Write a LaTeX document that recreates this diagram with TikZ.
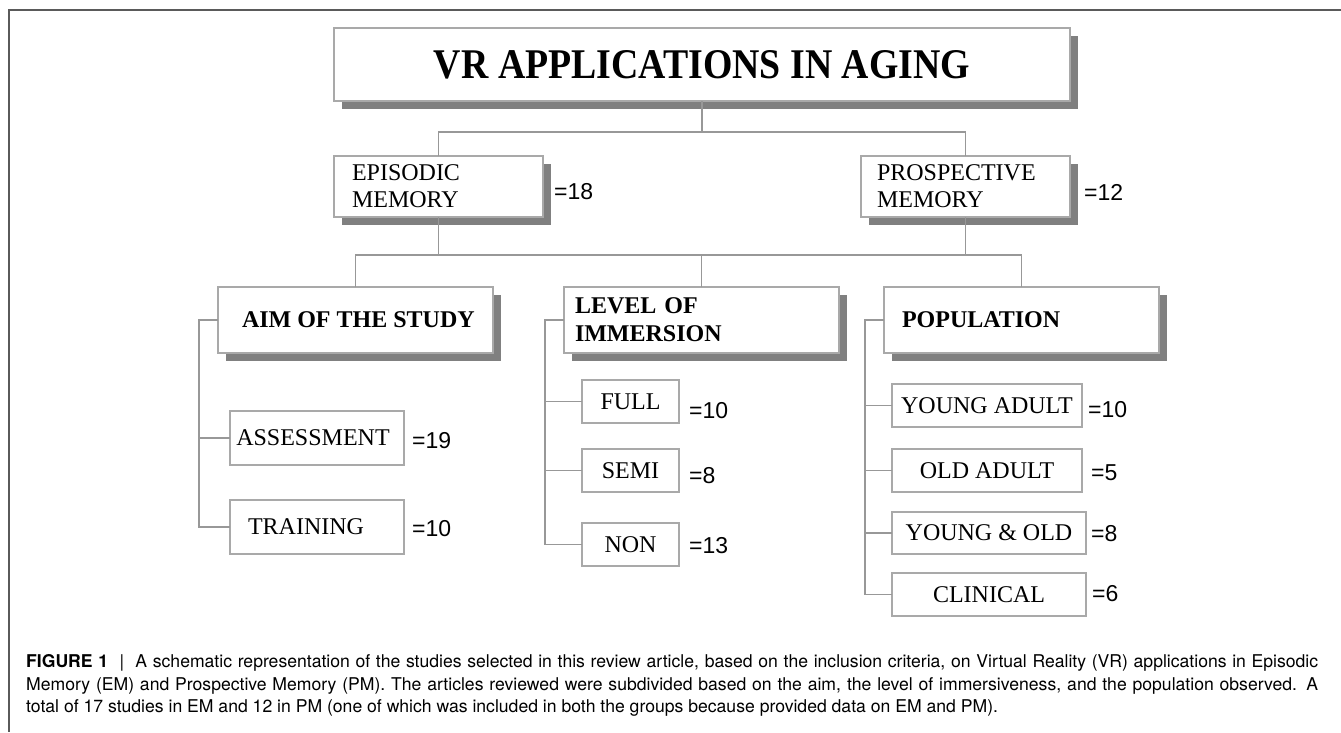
\documentclass[tikz,border=0pt]{standalone}
\usepackage{graphicx}
\usepackage{fontspec}
\setmainfont{Liberation Serif}
\newfontfamily\numfont{Liberation Sans}
\newfontfamily\capfont{TeX Gyre Heros}
\usetikzlibrary{shadows}
\definecolor{boxgray}{HTML}{A9A9A9}
\definecolor{linegray}{HTML}{989898}
\definecolor{shadowgray}{HTML}{808080}
\definecolor{framegray}{HTML}{5A5A5A}
\begin{document}
\begin{tikzpicture}[x=1pt,y=-1pt,
  box/.style={draw=boxgray, line width=1.2pt, fill=white, inner ysep=0pt, inner xsep=0pt, outer sep=0pt},
  shbox/.style={box, general shadow={fill=shadowgray, draw=none, shadow xshift=8pt, shadow yshift=-8pt}},
  conn/.style={draw=linegray, line width=1.3pt},
  num/.style={font=\numfont\fontsize{23}{23}\selectfont, anchor=base west, inner sep=0pt},
  reg/.style={font=\fontsize{24}{27}\selectfont},
  bld/.style={font=\bfseries\fontsize{24}{28}\selectfont},
  captxt/.style={font=\capfont\fontsize{17.6}{23}\selectfont, anchor=base west, inner sep=0pt}
]
\useasboundingbox (0,0) rectangle (1341,732);
% frame
\draw[framegray, line width=2pt] (1341,10) -- (9,10) -- (9,732);

% level 0
\node[shbox, minimum width=736pt, minimum height=73pt] (top) at (702,64.5)
  {\resizebox{536pt}{28pt}{\bfseries VR APPLICATIONS IN AGING}};

% level 1
\node[shbox, reg, minimum width=209pt, minimum height=61pt, text width=173pt, inner xsep=18pt, align=left] (em) at (438.5,186.5) {EPISODIC\\MEMORY};
\node[shbox, reg, minimum width=209pt, minimum height=61pt, text width=177pt, inner xsep=16pt, align=left] (pm) at (965.5,186.5) {PROSPECTIVE\\MEMORY};
\node[num] (n18) at (554,199) {=18};
\node[num] (n12) at (1084,200) {=12};

% level 2
\node[shbox, bld, minimum width=275pt, minimum height=66pt] (aim) at (355.5,320) {\makebox[275pt][l]{\hspace*{24pt}AIM OF THE STUDY}};
\node[shbox, bld, minimum width=275pt, minimum height=66pt, text width=253pt, inner xsep=11pt, align=left] (lev) at (701.5,320) {LEVEL OF\\IMMERSION};
\node[shbox, bld, minimum width=275pt, minimum height=66pt] (pop) at (1021.5,320) {\makebox[275pt][l]{\hspace*{18pt}POPULATION}};

% level 3 : aim
\node[box, reg, minimum width=174pt, minimum height=54pt] (assess) at (317,438) {ASSESSMENT\hspace*{8pt}};
\node[box, reg, minimum width=174pt, minimum height=54pt] (train) at (317,527) {TRAINING\hspace*{22pt}};
\node[num] (n19) at (412,448) {=19};
\node[num] (n10a) at (412,536) {=10};

% level 3 : immersion
\node[box, reg, minimum width=97pt, minimum height=43pt] (full) at (630.5,401.5) {FULL};
\node[box, reg, minimum width=97pt, minimum height=43pt] (semi) at (630.5,470.5) {SEMI};
\node[box, reg, minimum width=97pt, minimum height=43pt] (non) at (630.5,544.5) {NON};
\node[num] (n10b) at (689,418) {=10};
\node[num] (n8a) at (689,483) {=8};
\node[num] (n13) at (689,553) {=13};

% level 3 : population
\node[box, reg, minimum width=190pt, minimum height=43pt] (ya) at (987,405.5) {YOUNG ADULT};
\node[box, reg, minimum width=190pt, minimum height=43pt] (oa) at (987,470.5) {OLD ADULT};
\node[box, reg, minimum width=194pt, minimum height=42pt] (yo) at (989,533) {YOUNG \& OLD};
\node[box, reg, minimum width=194pt, minimum height=43pt] (cl) at (989,594.5) {CLINICAL};
\node[num] (n10c) at (1088,417) {=10};
\node[num] (n5) at (1091,480) {=5};
\node[num] (n8b) at (1091,541) {=8};
\node[num] (n6) at (1092,601) {=6};

% connectors level 0-1
\coordinate (bus1) at (702,132);
\draw[conn] (top.south) -- (top.south |- bus1);
\draw[conn] (em.north) |- (bus1) -| (pm.north);
% connectors level 1-2
\coordinate (bus2) at (702,255);
\draw[conn] (aim.north) |- (bus2) -| (pop.north);
\draw[conn] (lev.north) -- (lev.north |- bus2);
\draw[conn] (em.south) -- (em.south |- bus2);
\draw[conn] (pm.south) -- (pm.south |- bus2);
% subtree aim
\coordinate (tA) at ([xshift=-19pt]aim.west);
\draw[conn] (aim.west) -- (tA) |- (train.west);
\draw[conn] (assess.west) -- (assess.west -| tA);
% subtree immersion
\coordinate (tL) at ([xshift=-19pt]lev.west);
\draw[conn] (lev.west) -- (tL) |- (non.west);
\draw[conn] (full.west) -- (full.west -| tL);
\draw[conn] (semi.west) -- (semi.west -| tL);
% subtree population
\coordinate (tP) at ([xshift=-19pt]pop.west);
\draw[conn] (pop.west) -- (tP) |- (cl.west);
\draw[conn] (ya.west) -- (ya.west -| tP);
\draw[conn] (oa.west) -- (oa.west -| tP);
\draw[conn] (yo.west) -- (yo.west -| tP);

% caption
\node[captxt] (cap1) at (26,667) {\makebox[1292pt][s]{\textbf{FIGURE 1}\ \ |\ \ A schematic representation of the studies selected in this review article, based on the inclusion criteria, on Virtual Reality (VR) applications in Episodic}};
\node[captxt] (cap2) at (26,690) {\makebox[1292pt][s]{Memory (EM) and Prospective Memory (PM). The articles reviewed were subdivided based on the aim, the level of immersiveness, and the population observed. A}};
\node[captxt] (cap3) at (26,712) {total of 17 studies in EM and 12 in PM (one of which was included in both the groups because provided data on EM and PM).};
\end{tikzpicture}
\end{document}
